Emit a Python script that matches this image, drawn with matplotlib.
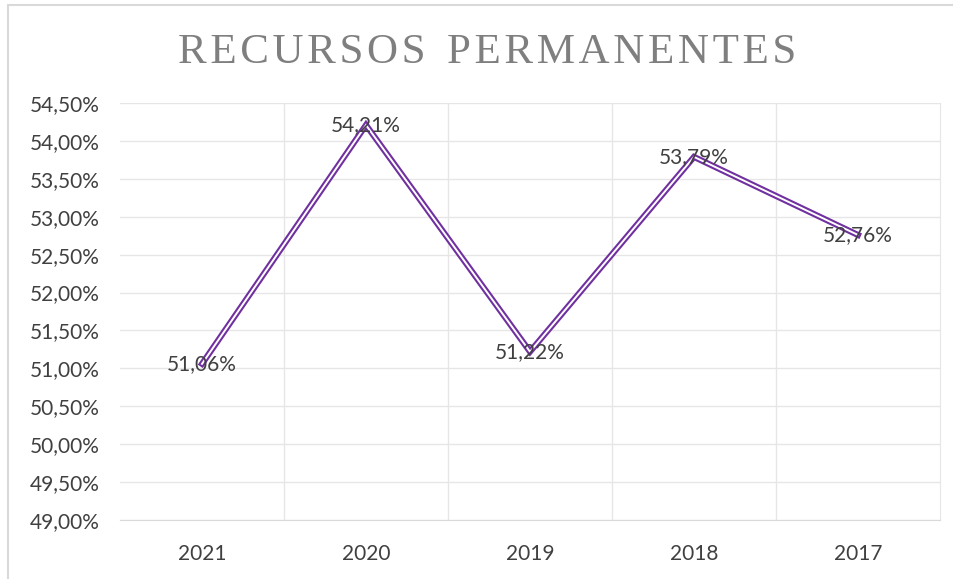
import matplotlib
matplotlib.use("Agg")
import matplotlib.pyplot as plt
from matplotlib.patches import Rectangle
from matplotlib.ticker import FuncFormatter, MultipleLocator

years = ['2021', '2020', '2019', '2018', '2017']
values = [51.06, 54.21, 51.22, 53.79, 52.76]
title = 'RECURSOS PERMANENTES'

purple = '#7030A0'
txt = '#404040'

plt.rcParams['font.family'] = ['Lato', 'DejaVu Sans']

fig = plt.figure(figsize=(9.54, 5.79), dpi=100)
ax = fig.add_axes([0.1258, 0.1019, 0.9853 - 0.1258, 0.822 - 0.1019])

# chart border
fig.patches.append(Rectangle((0.0084, -0.01), 1.0, 1.0 - 0.0086 + 0.01, transform=fig.transFigure,
                             fill=False, edgecolor='#d9d9d9', lw=1.5))

x = list(range(len(years)))
# double line: thick purple with thin white core
ax.plot(x, values, color=purple, lw=4.4, solid_joinstyle='miter', zorder=3)
ax.plot(x, values, color='white', lw=1.4, solid_joinstyle='miter', zorder=4)

for xi, v in zip(x, values):
    ax.text(xi, v, f'{v:.2f}%'.replace('.', ','), ha='center', va='center',
            fontsize=15, color=txt, zorder=5)

ax.set_xlim(-0.5, len(years) - 0.5)
ax.set_ylim(49, 54.5)
ax.yaxis.set_major_locator(MultipleLocator(0.5))
ax.yaxis.set_major_formatter(FuncFormatter(lambda v, p: f'{v:.2f}%'.replace('.', ',')))
ax.set_xticks(x)
ax.set_xticklabels(years)
ax.set_xticks([i + 0.5 for i in x[:-1]], minor=True)
ax.tick_params(axis='both', which='both', length=0, labelsize=15, colors=txt)
ax.tick_params(axis='x', pad=17)
ax.tick_params(axis='y', pad=15)

ax.grid(True, axis='y', which='major', color='#e6e6e6', lw=1)
ax.grid(True, axis='x', which='minor', color='#e6e6e6', lw=1)
ax.set_axisbelow(True)
for s in ['top', 'left']:
    ax.spines[s].set_visible(False)
ax.spines['right'].set_color('#e6e6e6')
ax.spines['bottom'].set_color('#d9d9d9')

fig.text(0.511, 0.909, '\u200a'.join(title).replace('\u200a \u200a', '\u2002'),
         ha='center', va='center', fontsize=31, color='#7f7f7f',
         family=['Liberation Serif', 'DejaVu Serif'])

fig.savefig('out.png', dpi=100)
